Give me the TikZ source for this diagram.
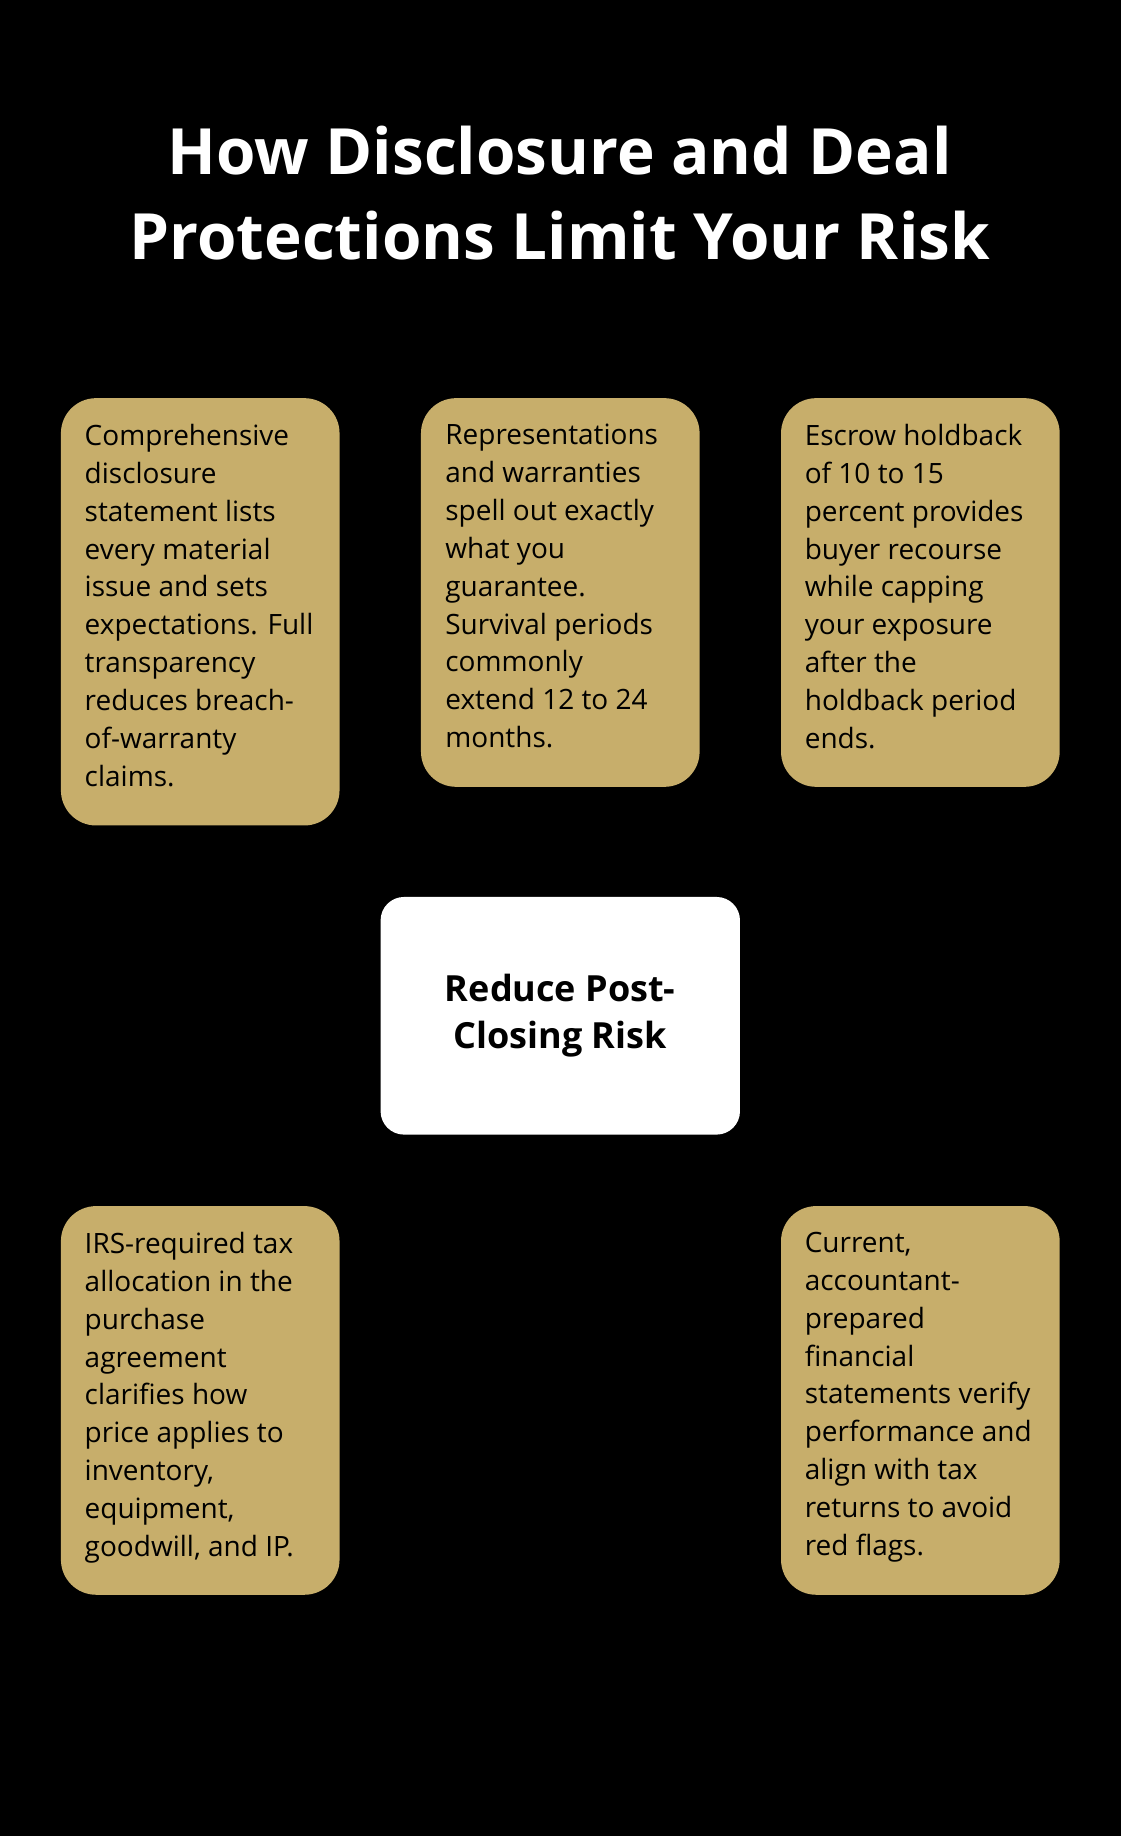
\documentclass[tikz,border=0pt]{standalone}
\usepackage{fontspec}
\setmainfont{Open Sans}
\usetikzlibrary{positioning,backgrounds}
\definecolor{gold}{HTML}{C7AE6B}
\definecolor{dashgray}{HTML}{7A7A7A}
\tikzset{
  card/.style={fill=gold, rounded corners=0.6cm, minimum width=4.76cm, inner sep=0},
  cardtext/.style={anchor=north west, inner sep=0, align=left, font=\fontsize{13.6}{18.4}\selectfont},
  hub/.style={fill=white, rounded corners=0.4cm, minimum width=6.14cm, minimum height=4.06cm,
    align=center, font=\fontsize{17.5}{23}\selectfont\bfseries},
  link/.style={dashgray, thick, dash pattern=on 3pt off 3pt}
}
\begin{document}
\begin{tikzpicture}[x=0.02cm, y=-0.02cm]
\fill[black] (0,0) rectangle (957,1568);
\useasboundingbox (0,0) rectangle (957,1568);
\node[white, align=center, font=\fontsize{31}{41.4}\selectfont\bfseries] (title) at (478,165)
  {How Disclosure and Deal\\Protections Limit Your Risk};
% cards
\node[card, minimum height=7.3cm]  (disc) at (171,522.5) {};
\node[card, minimum height=6.64cm] (reps) at (478.5,506) {};
\node[card, minimum height=6.64cm] (escr) at (786,506) {};
\node[card, minimum height=6.64cm] (tax)  at (171,1196) {};
\node[card, minimum height=6.64cm] (fin)  at (786,1196) {};
\node[hub] (risk) at (478.5,867.5) {Reduce Post-\\Closing Risk};
% texts
\node[cardtext] (disct) at (72,362) {Comprehensive\\disclosure\\statement lists\\every material\\issue and sets\\expectations. Full\\transparency\\reduces breach-\\of-warranty\\claims.};
\node[cardtext] (repst) at (380,362) {Representations\\and warranties\\spell out exactly\\what you\\guarantee.\\Survival periods\\commonly\\extend 12 to 24\\months.};
\node[cardtext] (escrt) at (687,362) {Escrow holdback\\of 10 to 15\\percent provides\\buyer recourse\\while capping\\your exposure\\after the\\holdback period\\ends.};
\node[cardtext] (taxt) at (72,1052) {IRS-required tax\\allocation in the\\purchase\\agreement\\clarifies how\\price applies to\\inventory,\\equipment,\\goodwill, and IP.};
\node[cardtext] (fint) at (687,1052) {Current,\\accountant-\\prepared\\financial\\statements verify\\performance and\\align with tax\\returns to avoid\\red flags.};
% connectors
\begin{scope}[on background layer]
\draw[link] (risk.center) -- (disc.center);
\draw[link] (risk.center) -- (reps.center);
\draw[link] (risk.center) -- (escr.center);
\draw[link] (risk.center) -- (tax.center);
\draw[link] (risk.center) -- (fin.center);
\end{scope}
\end{tikzpicture}
\end{document}
